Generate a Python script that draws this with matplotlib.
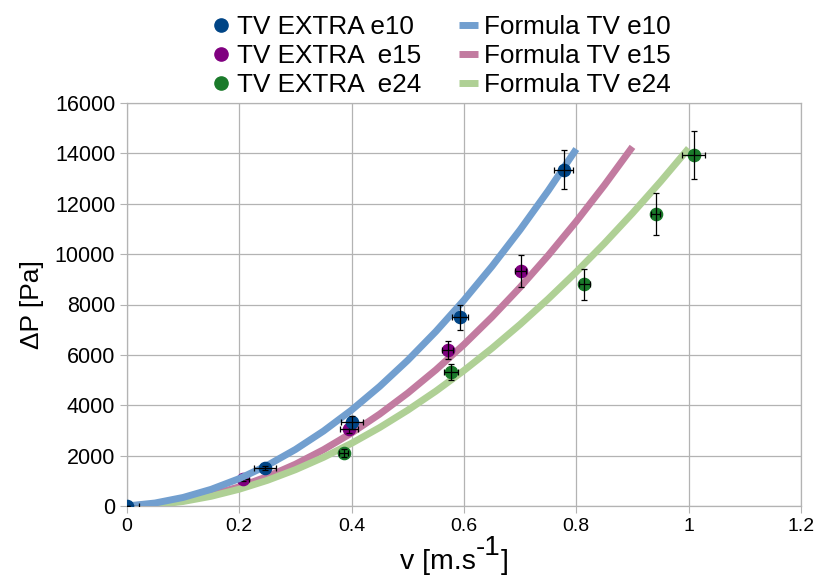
import matplotlib.pyplot as plt
import numpy as np

plt.rcParams['font.family'] = ['Liberation Sans', 'DejaVu Sans']

# measured points (v in m/s, dP in Pa)
v_e10 = [0.0, 0.246, 0.401, 0.593, 0.778]
dp_e10 = [0, 1510, 3330, 7500, 13350]
vx_e10 = [0.022, 0.019, 0.020, 0.014, 0.017]
dpx_e10 = [0, 80, 260, 500, 780]

v_e15 = [0.207, 0.395, 0.571, 0.701]
dp_e15 = [1070, 3060, 6190, 9330]
vx_e15 = [0.010, 0.016, 0.010, 0.010]
dpx_e15 = [60, 180, 360, 650]

v_e24 = [0.386, 0.577, 0.814, 0.941, 1.009]
dp_e24 = [2100, 5320, 8800, 11590, 13920]
vx_e24 = [0.008, 0.012, 0.010, 0.008, 0.020]
dpx_e24 = [150, 320, 610, 850, 950]

# formula curves every 0.05 m/s
fv_e10 = [0.0, 0.05, 0.1, 0.15, 0.2, 0.25, 0.3, 0.35, 0.4, 0.45, 0.5, 0.55, 0.6,
          0.65, 0.7, 0.75, 0.8]
fdp_e10 = [0, 118, 339, 662, 1087, 1614, 2244, 2976, 3811, 4748, 5787, 6929, 8173,
           9519, 10968, 12519, 14172]
fv_e15 = [0.0, 0.05, 0.1, 0.15, 0.2, 0.25, 0.3, 0.35, 0.4, 0.45, 0.5, 0.55, 0.6,
          0.65, 0.7, 0.75, 0.8, 0.85, 0.9]
fdp_e15 = [0, 62, 209, 443, 762, 1168, 1659, 2236, 2900, 3649, 4484, 5405, 6412,
           7506, 8684, 9949, 11300, 12737, 14259]
fv_e24 = [0.0, 0.05, 0.1, 0.15, 0.2, 0.25, 0.3, 0.35, 0.4, 0.45, 0.5, 0.55, 0.6,
          0.65, 0.7, 0.75, 0.8, 0.85, 0.9, 0.95, 1.0]
fdp_e24 = [0, 48, 179, 386, 667, 1019, 1441, 1932, 2490, 3115, 3805, 4560, 5380,
           6263, 7211, 8221, 9293, 10427, 11624, 12881, 14200]

x_ticks = [0, 0.2, 0.4, 0.6, 0.8, 1, 1.2]
x_labels = ['0', '0.2', '0.4', '0.6', '0.8', '1', '1.2']
y_ticks = np.arange(0, 16001, 2000)

fig = plt.figure(figsize=(8.19, 5.8), dpi=100)
ax = fig.add_axes([0.155, 0.1276, 0.823, 0.6948])

lw = 5
ms = 8.8
ax.plot(fv_e15, fdp_e15, color='#c27ba0', lw=lw, solid_capstyle='butt', zorder=2, label='Formula TV e15')
ax.plot(fv_e24, fdp_e24, color='#afd095', lw=lw, solid_capstyle='butt', zorder=2, label='Formula TV e24')


def points(v, dp, vx, dpx, color, label, z):
    ax.plot(v, dp, 'o', color=color, ms=ms, zorder=z, label=label)
    ax.errorbar(v, dp, xerr=vx, yerr=dpx, fmt='none', ecolor='black',
                elinewidth=0.9, capsize=2.5, capthick=0.9, zorder=z + 0.1)


points(v_e15, dp_e15, vx_e15, dpx_e15, '#800080', 'TV EXTRA  e15', 3)
points(v_e24, dp_e24, vx_e24, dpx_e24, '#1a7a2a', 'TV EXTRA  e24', 3)
ax.plot(fv_e10, fdp_e10, color='#729fcf', lw=lw, solid_capstyle='butt', zorder=4, label='Formula TV e10')
points(v_e10, dp_e10, vx_e10, dpx_e10, '#004586', 'TV EXTRA e10', 5)

ax.set_xlim(0, 1.2)
ax.set_ylim(0, 16000)
ax.set_xticks(x_ticks)
ax.set_xticklabels(x_labels)
ax.set_yticks(y_ticks)
ax.tick_params(color='#b3b3b3', length=5, width=0.8, labelcolor='black')
ax.tick_params(axis='x', labelsize=14)
ax.tick_params(axis='y', labelsize=15.5)
ax.grid(True, color='#b3b3b3', lw=0.9)
ax.set_axisbelow(True)
for s in ax.spines.values():
    s.set_color('#b3b3b3')
    s.set_linewidth(0.9)

ax.set_ylabel('ΔP [Pa]', fontsize=19, labelpad=8)

# x title with a full-size raised exponent
renderer = fig.canvas.get_renderer()
t1 = fig.text(400 / 819, 1 - 569 / 580, 'v [m.s', fontsize=20.5, va='baseline', ha='left')
x1 = t1.get_window_extent(renderer).x1
t2 = fig.text(x1 / 819, 1 - 555 / 580, '-1', fontsize=20, va='baseline', ha='left')
x2 = t2.get_window_extent(renderer).x1
fig.text(x2 / 819, 1 - 569 / 580, ']', fontsize=20.5, va='baseline', ha='left')

h, l = ax.get_legend_handles_labels()
order = ['TV EXTRA e10', 'TV EXTRA  e15', 'TV EXTRA  e24',
         'Formula TV e10', 'Formula TV e15', 'Formula TV e24']
hd = dict(zip(l, h))
fig.legend([hd[k] for k in order], order, loc='upper center', bbox_to_anchor=(0.5386, 1.015),
           ncol=2, frameon=False, fontsize=18.8, handlelength=0.73, handletextpad=0.25,
           columnspacing=1.45, labelspacing=0.2, markerscale=1.08)

fig.savefig('out.png', dpi=100)
